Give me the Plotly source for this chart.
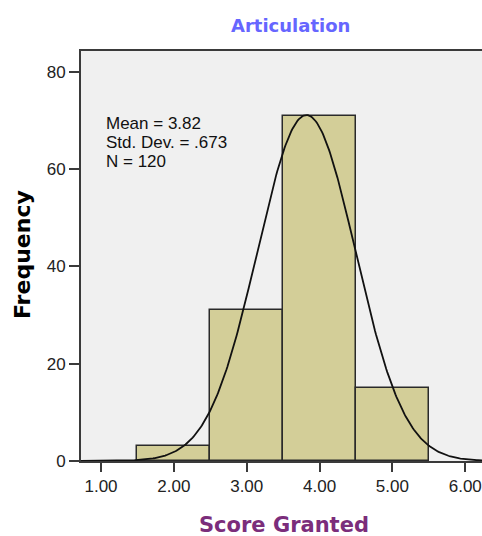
import numpy as np
import plotly.graph_objects as go

bin_centers = [2.0, 3.0, 4.0, 5.0]
frequencies = [3, 31, 71, 15]
bin_width = 1.0
mean_val = 3.82
sd_val = 0.673
n_val = 120
x_tick_vals = [1, 2, 3, 4, 5, 6]
x_tick_text = ["1.00", "2.00", "3.00", "4.00", "5.00", "6.00"]
y_tick_vals = [0, 20, 40, 60, 80]
stat_lines = ["Mean = %.2f" % mean_val, "Std. Dev. = .%d" % round(sd_val * 1000), "N = %d" % n_val]

xs = np.linspace(0.72, 6.3, 400)
curve = n_val * bin_width / (sd_val * np.sqrt(2 * np.pi)) * np.exp(-0.5 * ((xs - mean_val) / sd_val) ** 2)

W, H = 482, 536
L, T, R, B = 81, 51, 0, 75
PH = H - T - B
PW = W - L - R


def px(x):
    return (x - L) / PW


def py(y):
    return (H - B - y) / PH


fig = go.Figure()
fig.add_trace(go.Bar(x=bin_centers, y=frequencies, width=bin_width,
                     marker=dict(color="#d3ce98", line=dict(color="#2a2a2a", width=1.5)),
                     hoverinfo="x+y"))
fig.add_trace(go.Scatter(x=xs, y=curve, mode="lines", line=dict(color="#111111", width=1.8),
                         hoverinfo="skip"))

fig.update_layout(
    width=W, height=H,
    margin=dict(l=L, r=R, t=T, b=B),
    paper_bgcolor="white", plot_bgcolor="#f0f0f0",
    showlegend=False,
    bargap=0,
    font=dict(family="Liberation Sans, Arial, sans-serif", size=17, color="#222222"),
)
fig.update_xaxes(range=[0.725, 6.23], tickvals=x_tick_vals, ticktext=x_tick_text,
                 showgrid=False, zeroline=False, showline=True, linecolor="#3a3a3a", linewidth=2,
                 mirror=True, ticks="outside", ticklen=9, tickwidth=2, tickcolor="#3a3a3a",
                 tickfont=dict(size=17, color="#222222"))
fig.update_yaxes(range=[0, 84.3], tickvals=y_tick_vals,
                 showgrid=False, zeroline=False, showline=True, linecolor="#3a3a3a", linewidth=2,
                 ticks="outside", ticklen=10, tickwidth=2, tickcolor="#3a3a3a",
                 tickfont=dict(size=17, color="#222222"))

bold = "DejaVu Sans, Verdana, sans-serif"
fig.add_annotation(xref="paper", yref="paper", x=px(290), y=py(26), xanchor="center", yanchor="middle",
                   showarrow=False, text="<b>Articulation</b>", font=dict(family=bold, size=18, color="#6666ff"))
fig.add_annotation(xref="paper", yref="paper", x=px(284), y=py(525), xanchor="center", yanchor="middle",
                   showarrow=False, text="<b>Score Granted</b>", font=dict(family=bold, size=21, color="#7b2d7b"))
fig.add_annotation(xref="paper", yref="paper", x=px(22), y=py(255), xanchor="center", yanchor="middle",
                   showarrow=False, textangle=-90, text="<b>Frequency</b>",
                   font=dict(family=bold, size=22, color="#000000"))

for line_text, yc in zip(stat_lines, [123, 142, 161]):
    fig.add_annotation(xref="paper", yref="paper", x=px(104), y=py(yc), xanchor="left", yanchor="middle",
                       showarrow=False, text=line_text, font=dict(size=17, color="#111111"))

fig.write_html("out.html", config={"displayModeBar": False},
               post_script="document.body.style.margin='0';")
